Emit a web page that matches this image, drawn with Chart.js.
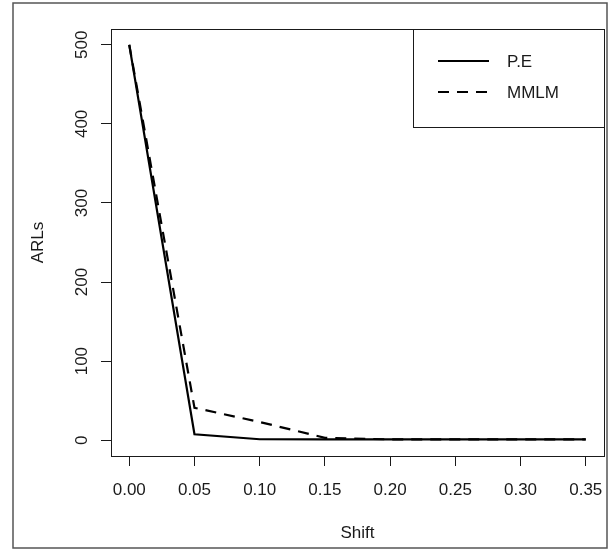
<!DOCTYPE html>
<html lang="en">
<head>
    <meta charset="UTF-8">
    <title>ARLs vs Shift</title>
    <script src="https://cdn.jsdelivr.net/npm/chart.js"></script>
    <style>
        html, body { margin: 0; padding: 0; background: #fff; }
        #wrap { width: 609px; height: 550px; }
    </style>
</head>
<body>
    <div id="wrap"><canvas id="arlChart" width="609" height="550"></canvas></div>
    <script>
        // values
        const shifts = [0, 0.05, 0.10, 0.15, 0.20, 0.25, 0.30, 0.35];
        const peARL = [500, 7.5, 1.2, 1, 1, 1, 1, 1];
        const mmlmARL = [500, 41, 23, 3, 1, 1, 1, 1];
        const seriesNames = ['P.E', 'MMLM'];
        const xTicks = [0, 0.05, 0.10, 0.15, 0.20, 0.25, 0.30, 0.35];
        const yTicks = [0, 100, 200, 300, 400, 500];
        const xTitle = 'Shift';
        const yTitle = 'ARLs';

        const FONT = "'Liberation Sans', Arial, sans-serif";
        const INK = '#1a1a1a';

        const toPoints = (ys) => shifts.map((s, i) => ({ x: s, y: ys[i] }));

        // box, axis titles and legend drawn the way base R does it
        const rStyle = {
            id: 'rStyle',
            beforeDraw(chart) {
                const ctx = chart.ctx;
                ctx.save();
                ctx.fillStyle = '#fff';
                ctx.fillRect(0, 0, chart.width, chart.height);
                ctx.strokeStyle = '#555';
                ctx.lineWidth = 1.5;
                ctx.strokeRect(13, 3, 594, 545);
                ctx.restore();
            },
            afterDraw(chart) {
                const ctx = chart.ctx;
                const a = chart.chartArea;
                ctx.save();
                ctx.strokeStyle = INK;
                ctx.lineWidth = 1;
                ctx.strokeRect(Math.round(a.left) + 0.5, Math.round(a.top) + 0.5,
                    Math.round(a.right - a.left), Math.round(a.bottom - a.top));

                ctx.fillStyle = INK;
                ctx.font = '17px ' + FONT;
                ctx.textAlign = 'center';
                ctx.textBaseline = 'middle';
                ctx.fillText(xTitle, (a.left + a.right) / 2, 533);
                ctx.save();
                ctx.translate(38, (a.top + a.bottom) / 2);
                ctx.rotate(-Math.PI / 2);
                ctx.fillText(yTitle, 0, 0);
                ctx.restore();

                // legend
                const lx = 413.5, ly = Math.round(a.top) + 0.5, lw = Math.round(a.right) - 413, lh = 98;
                ctx.fillStyle = '#fff';
                ctx.fillRect(lx, ly, lw, lh);
                ctx.strokeRect(lx, ly, lw, lh);
                const rows = [61, 92];
                chart.data.datasets.forEach((ds, i) => {
                    ctx.beginPath();
                    ctx.setLineDash(ds.borderDash || []);
                    ctx.lineWidth = ds.borderWidth;
                    ctx.strokeStyle = ds.borderColor;
                    ctx.moveTo(438, rows[i]);
                    ctx.lineTo(489, rows[i]);
                    ctx.stroke();
                    ctx.setLineDash([]);
                    ctx.fillStyle = INK;
                    ctx.textAlign = 'left';
                    ctx.fillText(ds.label, 507, rows[i] + 1);
                });
                ctx.restore();
            }
        };

        const ctx = document.getElementById('arlChart').getContext('2d');
        new Chart(ctx, {
            type: 'line',
            data: {
                datasets: [{
                    label: seriesNames[0],
                    data: toPoints(peARL),
                    borderColor: '#000',
                    borderWidth: 2.2,
                    pointRadius: 0,
                    tension: 0
                }, {
                    label: seriesNames[1],
                    data: toPoints(mmlmARL),
                    borderColor: '#000',
                    borderWidth: 2.2,
                    borderDash: [11, 8],
                    pointRadius: 0,
                    tension: 0
                }]
            },
            options: {
                responsive: false,
                animation: false,
                layout: { padding: { left: 0, top: 29, right: 5, bottom: 0 } },
                plugins: { legend: { display: false }, tooltip: { enabled: false } },
                scales: {
                    x: {
                        type: 'linear',
                        min: -0.014,
                        max: 0.364,
                        afterBuildTicks: (s) => { s.ticks = xTicks.map(v => ({ value: v })); },
                        afterFit: (s) => { s.height = 94; s.paddingLeft = 0; s.paddingRight = 0; },
                        border: { display: false },
                        grid: { drawOnChartArea: false, drawTicks: true, tickLength: 10, color: INK },
                        ticks: {
                            color: INK,
                            font: { family: FONT, size: 17 },
                            padding: 14,
                            maxRotation: 0,
                            callback: (v) => Number(v).toFixed(2)
                        }
                    },
                    y: {
                        min: -20,
                        max: 520,
                        afterBuildTicks: (s) => { s.ticks = yTicks.map(v => ({ value: v })); },
                        afterFit: (s) => { s.width = 111; s.paddingTop = 0; s.paddingBottom = 0; },
                        border: { display: false },
                        grid: { drawOnChartArea: false, drawTicks: true, tickLength: 10, color: INK },
                        ticks: {
                            color: INK,
                            font: { family: FONT, size: 17 },
                            padding: 5,
                            minRotation: 90,
                            maxRotation: 90,
                            crossAlign: 'center',
                            callback: (v) => String(v)
                        }
                    }
                }
            },
            plugins: [rStyle]
        });
    </script>
</body>
</html>
